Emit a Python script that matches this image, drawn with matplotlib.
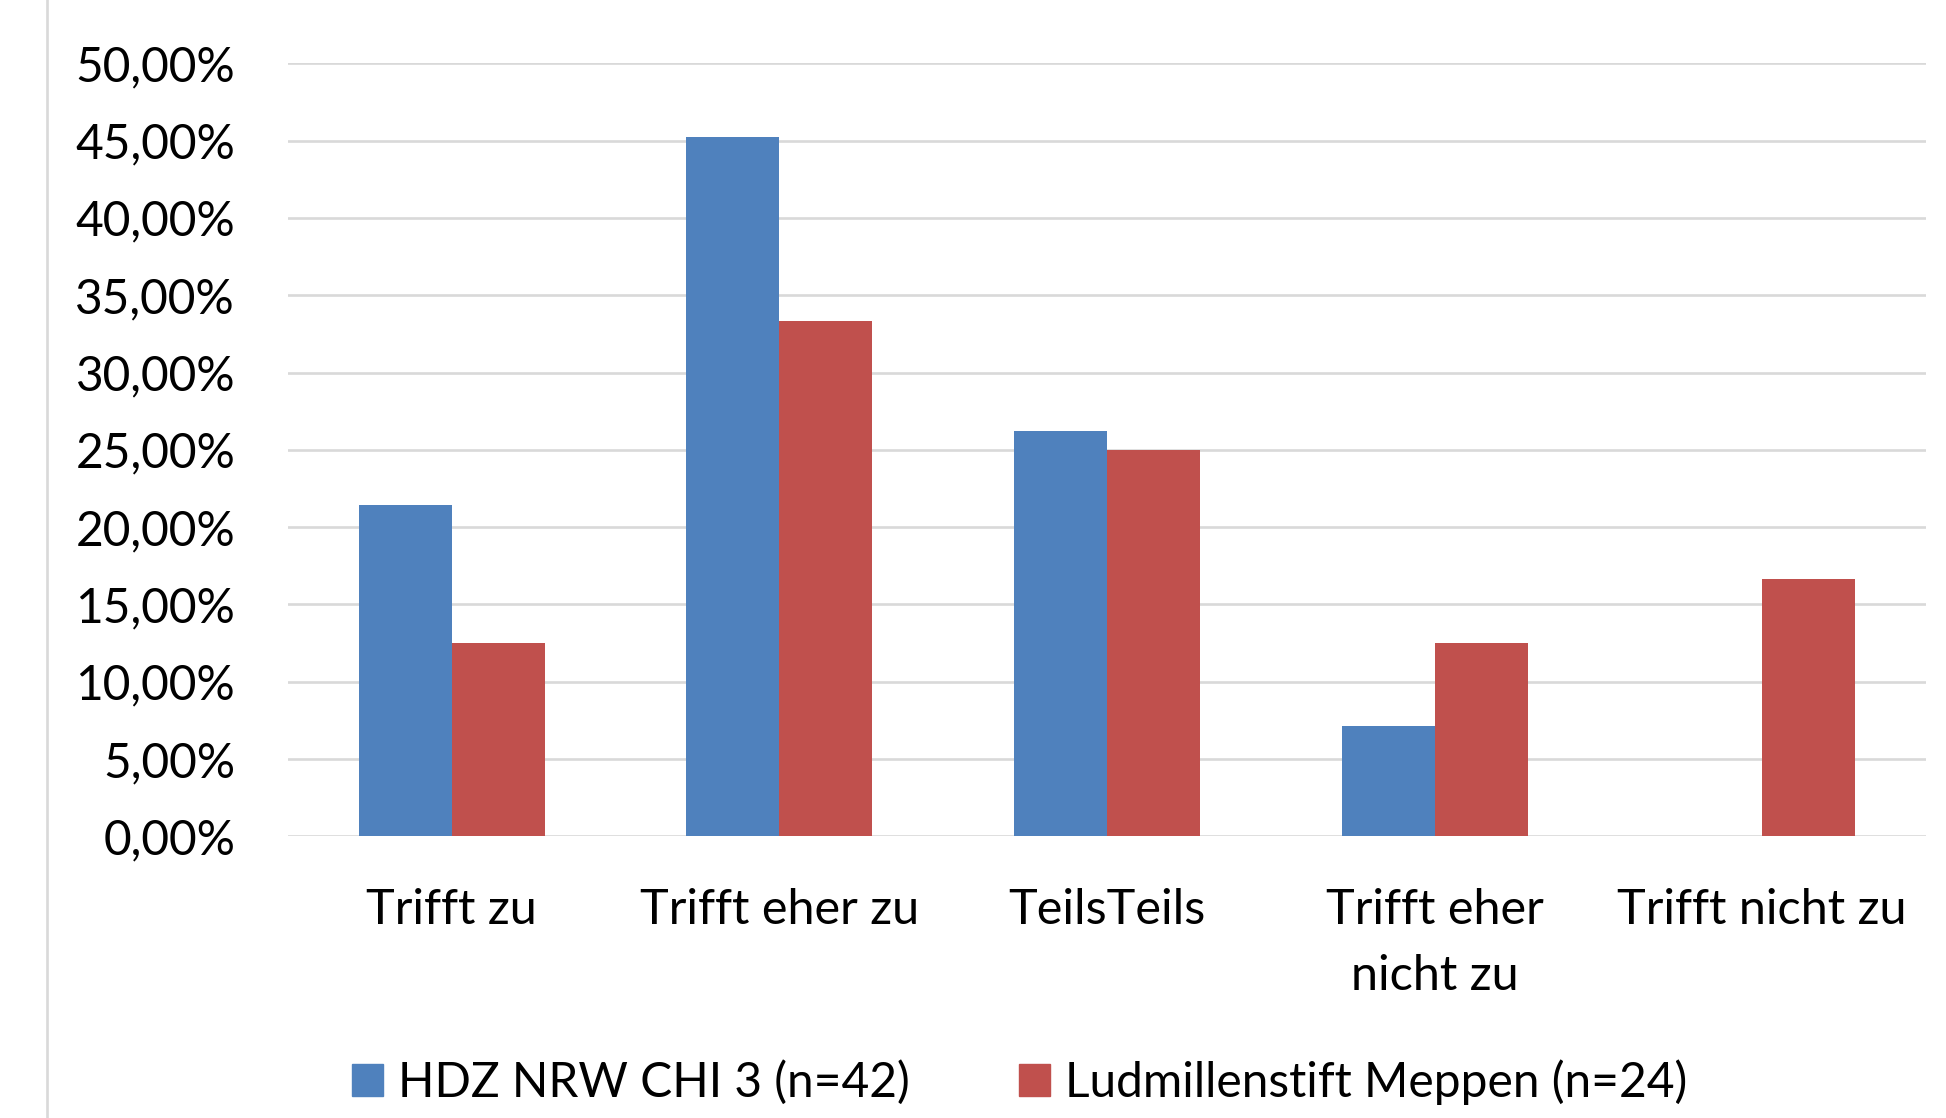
import numpy as np
import matplotlib.pyplot as plt
from matplotlib.lines import Line2D
from matplotlib.patches import Patch

kategorien = ['Trifft zu', 'Trifft eher zu', 'TeilsTeils', 'Trifft eher\nnicht zu', 'Trifft nicht zu']
hdz = [0.2143, 0.4524, 0.2619, 0.0714, 0.0]
ludmillen = [0.125, 0.3333, 0.25, 0.125, 0.1667]
namen = ['HDZ NRW CHI 3 (n=42)', 'Ludmillenstift Meppen (n=24)']
yticks = [0, 0.05, 0.10, 0.15, 0.20, 0.25, 0.30, 0.35, 0.40, 0.45, 0.50]

blau = '#4F81BD'
rot = '#C0504D'
grau = '#D9D9D9'

plt.rcParams['font.family'] = ['Lato', 'DejaVu Sans']

fig = plt.figure(figsize=(19.46, 11.18), dpi=100)
ax = fig.add_axes([0.148, 0.2519, 0.8417, 0.6915])

x = np.arange(len(kategorien))
w = 0.284
ax.bar(x - w/2, hdz, w, color=blau, zorder=3)
ax.bar(x + w/2, ludmillen, w, color=rot, zorder=3)

ax.set_xlim(-0.5, len(kategorien) - 0.5)
ax.set_ylim(0, 0.5)
ax.set_yticks(yticks)
ax.set_yticklabels([('%.2f' % (v * 100)).replace('.', ',') + '%' for v in yticks])
ax.set_xticks(x)
ax.set_xticklabels(kategorien, linespacing=1.62)
ax.tick_params(axis='y', length=0, pad=38, labelsize=34.5)
ax.tick_params(axis='x', length=0, pad=37, labelsize=35)

ax.grid(axis='y', color=grau, linewidth=1.9, zorder=0)
for s in ax.spines.values():
    s.set_visible(False)

# senkrechte graue Linie am linken Rand
fig.add_artist(Line2D([0.024, 0.024], [0, 1], color=grau, linewidth=1.9, transform=fig.transFigure))

handles = [Patch(color=blau), Patch(color=rot)]
fig.legend(handles, namen, loc='center', bbox_to_anchor=(0.524, 0.032), ncol=2, frameon=False,
           fontsize=34.5, handlelength=0.64, handleheight=0.64, handletextpad=0.32, columnspacing=2.27)

fig.savefig('out.png', dpi=100)
